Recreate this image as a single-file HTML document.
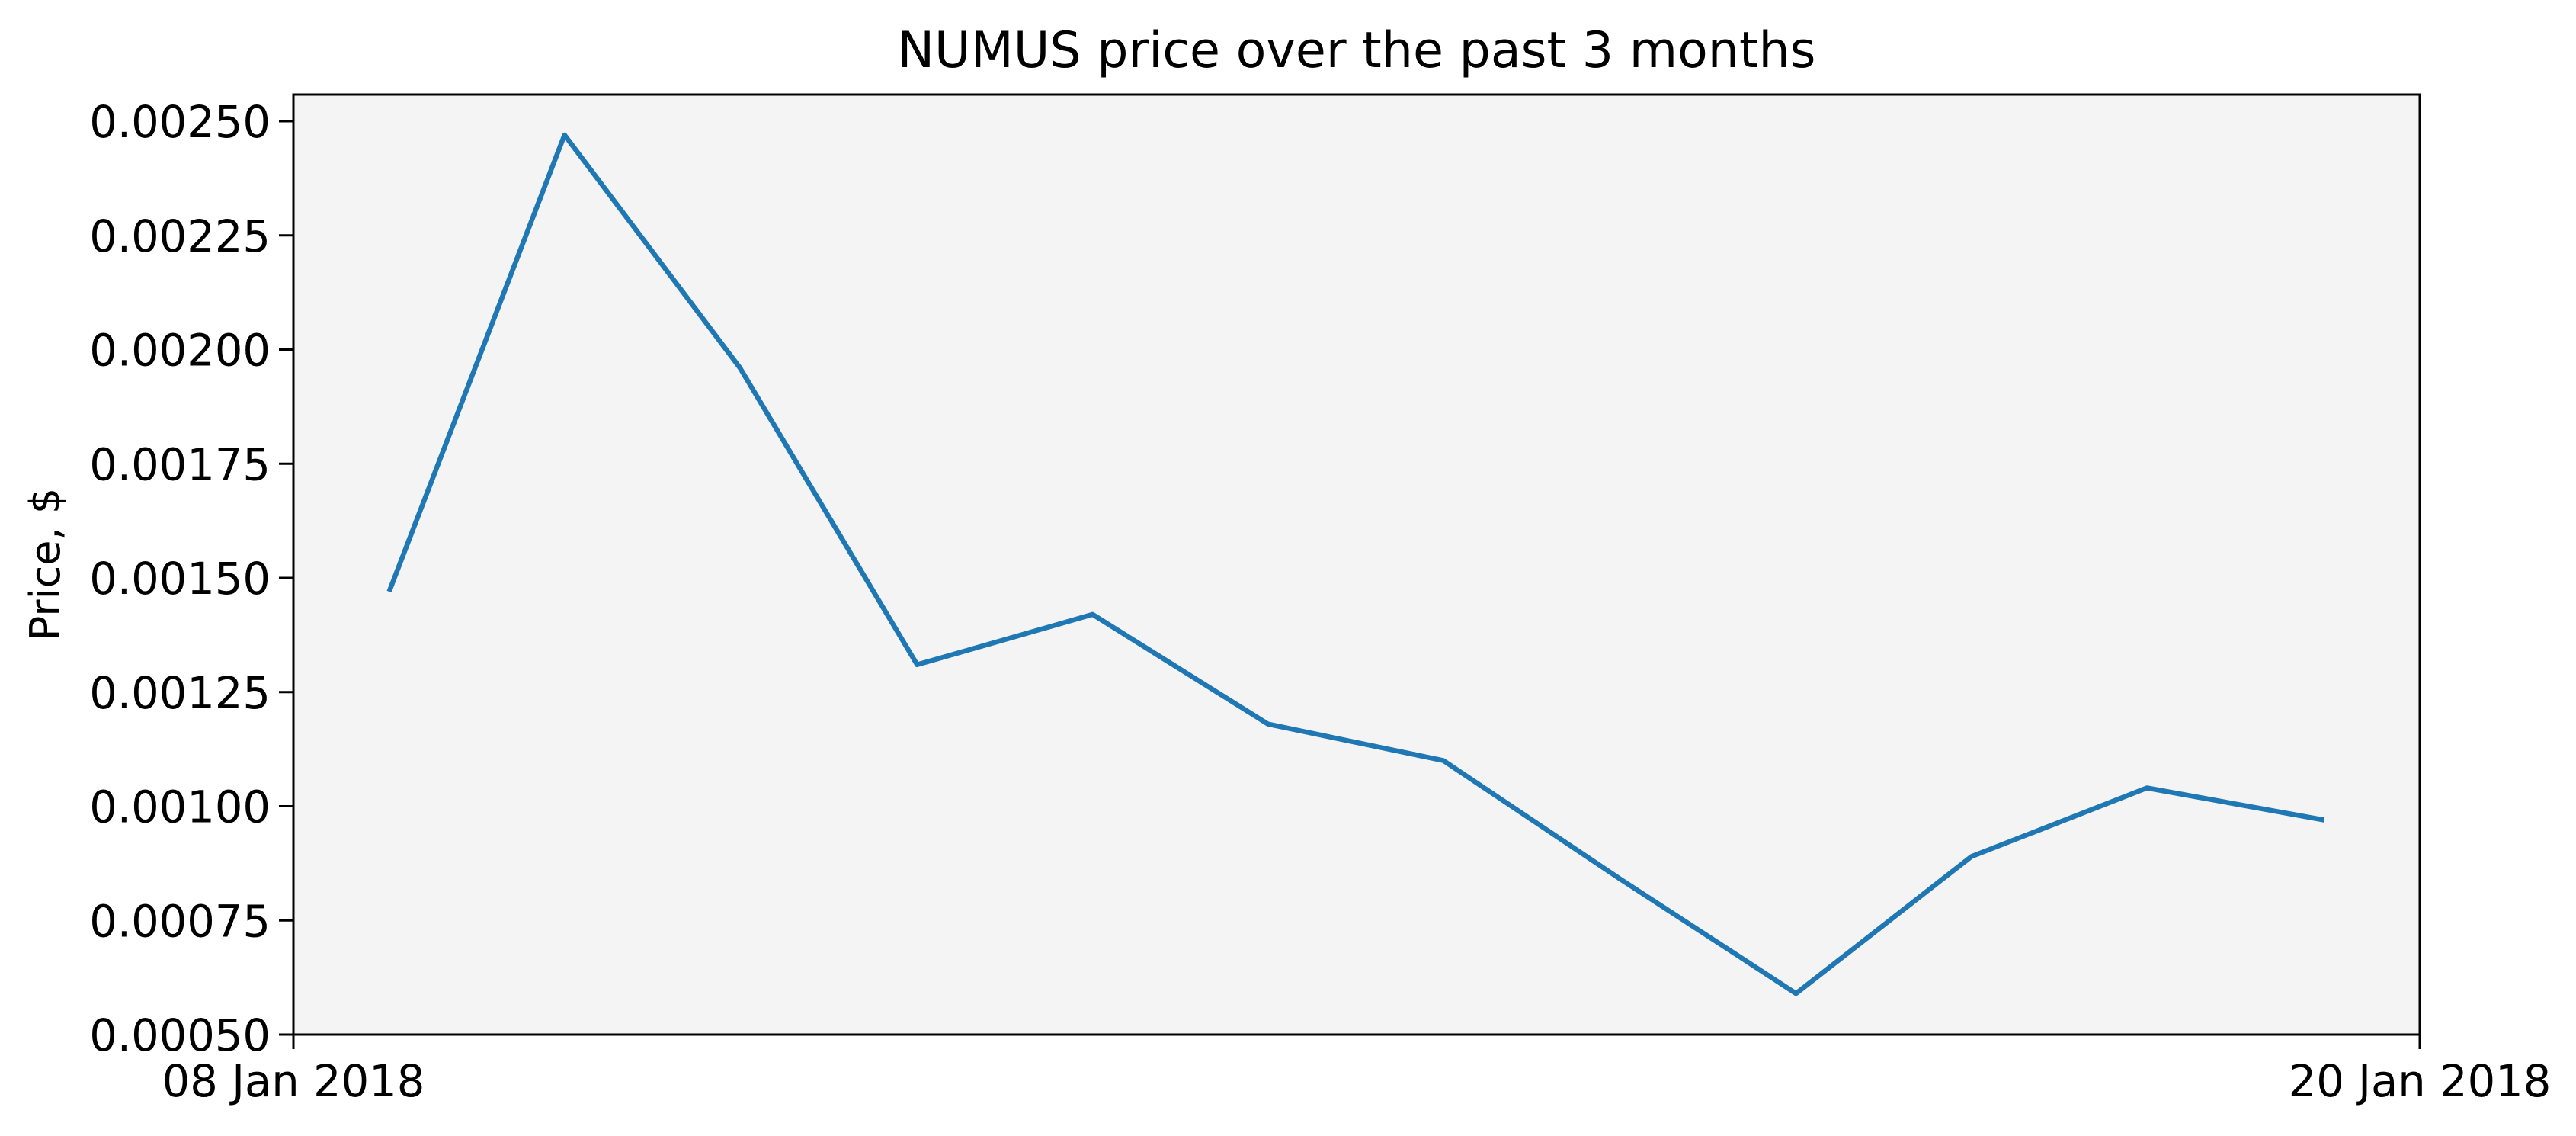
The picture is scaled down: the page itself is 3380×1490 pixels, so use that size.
<!DOCTYPE html>
<html><head><meta charset="utf-8"><style>
html,body{margin:0;padding:0;background:#fff;}
svg{display:block;font-family:"DejaVu Sans","Liberation Sans",sans-serif;}
</style></head><body>
<svg id="chart" width="3380" height="1490" viewBox="0 0 3380 1490" xmlns="http://www.w3.org/2000/svg">
<rect x="0" y="0" width="3380" height="1490" fill="#fff"/>
<rect x="385" y="124" width="2790" height="1233" fill="#f4f4f4"/>
<text x="1780" y="88" font-size="65" text-anchor="middle">NUMUS price over the past 3 months</text>
<text transform="translate(78,740) rotate(-90)" font-size="54" text-anchor="middle">Price, $</text>
<g id="yticks"></g>
<g id="xticks"></g>
<path id="line" fill="none" stroke="#1f77b4" stroke-width="6.5" stroke-linejoin="round"/>
<rect x="385" y="124" width="2790" height="1233" fill="none" stroke="#000" stroke-width="3"/>
</svg>
<script>
const dayOffsets = [0.54, 1.53, 2.52, 3.52, 4.51, 5.50, 6.49, 7.49, 8.48, 9.47, 10.46, 11.46];
const prices = [0.00147, 0.00247, 0.00196, 0.00131, 0.00142, 0.00118, 0.00110, 0.00084, 0.00059, 0.00089, 0.00104, 0.00097];
const yTickValues = [0.0005, 0.00075, 0.001, 0.00125, 0.0015, 0.00175, 0.002, 0.00225, 0.0025];
const yTickLabels = ["0.00050","0.00075","0.00100","0.00125","0.00150","0.00175","0.00200","0.00225","0.00250"];
const xTickDays = [0, 12];
const xTickLabels = ["08 Jan 2018", "20 Jan 2018"];

const X0=385, X1=3175, Y0=1357, Y1=124;
const xMin=0, xMax=12, yMin=0.0005, yPer=149.75/0.00025;
function xs(d){return X0+(d-xMin)/(xMax-xMin)*(X1-X0);}
function ys(v){return Y0-(v-yMin)*yPer;}
const NS="http://www.w3.org/2000/svg";
const yg=document.getElementById('yticks');
yTickValues.forEach((v,i)=>{
  const y=ys(v);
  const t=document.createElementNS(NS,'line');
  t.setAttribute('x1',X0-19);t.setAttribute('x2',X0);t.setAttribute('y1',y);t.setAttribute('y2',y);
  t.setAttribute('stroke','#000');t.setAttribute('stroke-width','3');
  
  
  yg.appendChild(t);
  const l=document.createElementNS(NS,'text');
  l.setAttribute('x',X0-30);l.setAttribute('y',y+21);l.setAttribute('font-size','57.5');l.setAttribute('text-anchor','end');
  l.textContent=yTickLabels[i];
  
  
  yg.appendChild(l);
});
const xg=document.getElementById('xticks');
xTickDays.forEach((d,i)=>{
  const x=xs(d);
  const t=document.createElementNS(NS,'line');
  t.setAttribute('x1',x);t.setAttribute('x2',x);t.setAttribute('y1',Y0);t.setAttribute('y2',Y0+19);
  t.setAttribute('stroke','#000');t.setAttribute('stroke-width','3');
  
  
  xg.appendChild(t);
  const l=document.createElementNS(NS,'text');
  l.setAttribute('x',x);l.setAttribute('y',1438);l.setAttribute('font-size','57.5');l.setAttribute('text-anchor','middle');
  l.textContent=xTickLabels[i];
  
  
  xg.appendChild(l);
});
document.getElementById('line').setAttribute('d',prices.map((p,i)=>(i?'L':'M')+xs(dayOffsets[i]).toFixed(1)+' '+ys(p).toFixed(1)).join(' '));
</script>
</body></html>
